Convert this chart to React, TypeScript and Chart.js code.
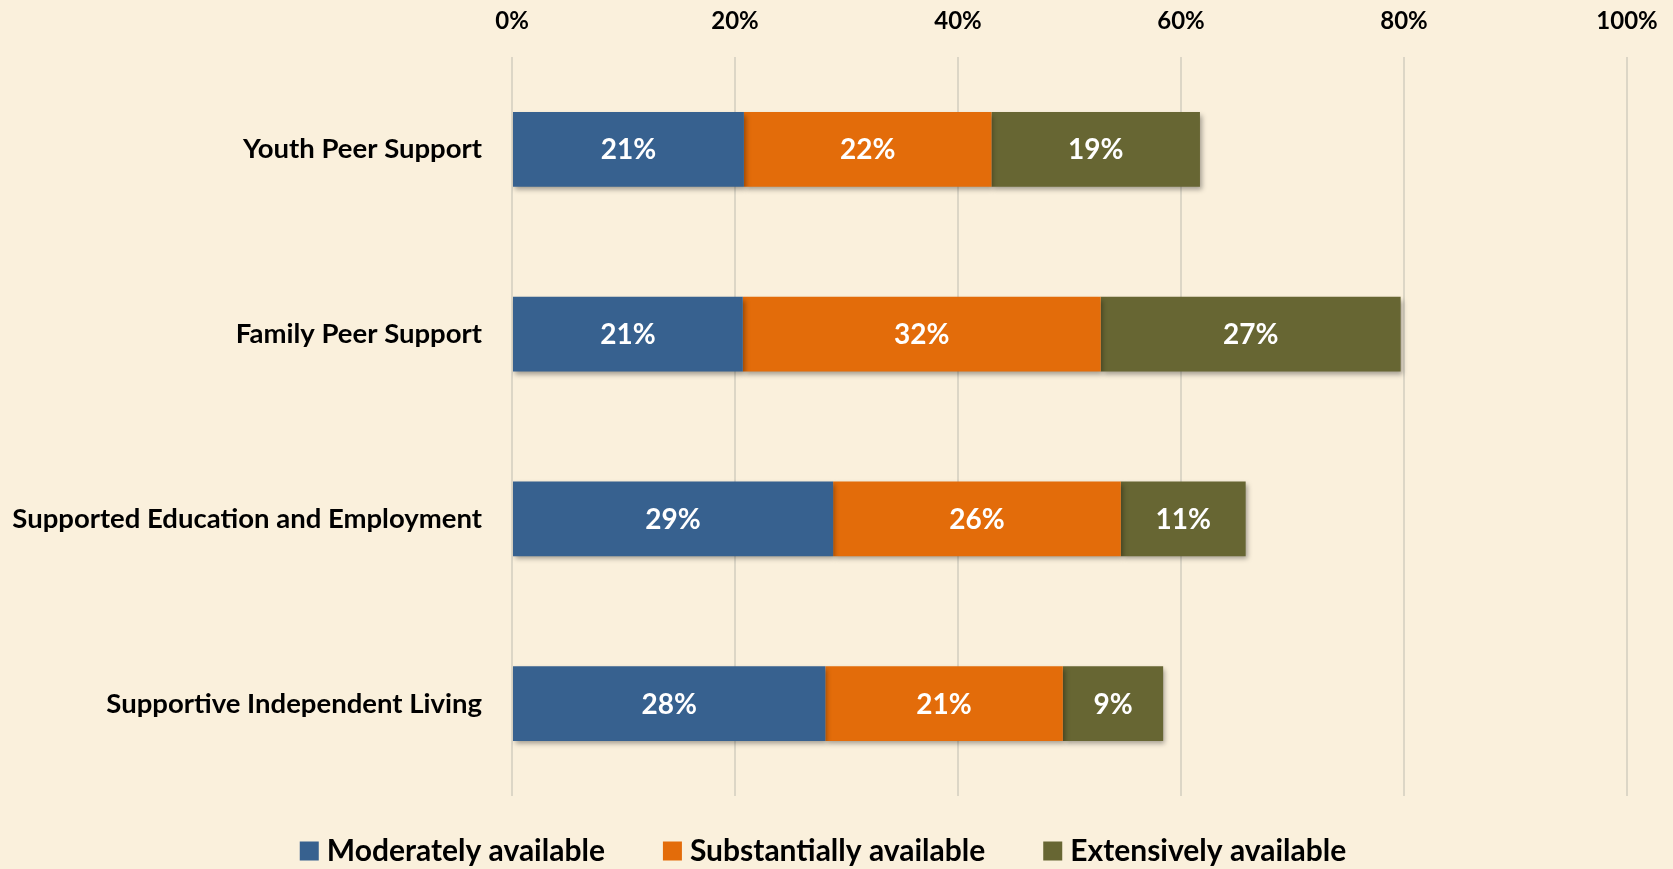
import React, { useEffect, useRef } from "react";
import { Chart, registerables } from "chart.js";

Chart.register(...registerables);

const categories = [
  "Youth Peer Support",
  "Family Peer Support",
  "Supported Education and Employment",
  "Supportive Independent Living",
];
const moderately = [20.8, 20.7, 28.8, 28.1];
const substantially = [22.2, 32.1, 25.8, 21.3];
const extensively = [18.7, 26.9, 11.2, 9.0];
const seriesNames = ["Moderately available", "Substantially available", "Extensively available"];
const seriesColors = ["#37618F", "#E36C0A", "#676633"];
const xTicks = [0, 20, 40, 60, 80, 100];

const FONT = "Lato, 'Open Sans', sans-serif";

const bgPlugin = {
  id: "bg",
  beforeDraw(chart: any) {
    const ctx = chart.ctx;
    ctx.save();
    ctx.fillStyle = "#FAF0DC";
    ctx.fillRect(0, 0, chart.width, chart.height);
    ctx.restore();
  },
};

const shadowPlugin = {
  id: "barShadow",
  beforeDatasetsDraw(chart: any) {
    const ctx = chart.ctx;
    ctx.save();
    ctx.shadowColor = "rgba(0,0,0,0.35)";
    ctx.shadowBlur = 5;
    ctx.shadowOffsetX = 2;
    ctx.shadowOffsetY = 3;
  },
  afterDatasetsDraw(chart: any) {
    chart.ctx.restore();
  },
};

const labelPlugin = {
  id: "dataLabels",
  afterDraw(chart: any) {
    const ctx = chart.ctx;
    ctx.save();
    ctx.fillStyle = "#FFFFFF";
    ctx.font = `bold 28px ${FONT}`;
    ctx.textAlign = "center";
    ctx.textBaseline = "middle";
    chart.data.datasets.forEach((ds: any, di: number) => {
      const meta = chart.getDatasetMeta(di);
      meta.data.forEach((el: any, i: number) => {
        const v = ds.data[i];
        const cx = (el.x + el.base) / 2;
        ctx.fillText(Math.round(v) + "%", cx, el.y + 1);
      });
    });
    ctx.restore();
  },
};

const legendPlugin = {
  id: "customLegend",
  afterDraw(chart: any) {
    const ctx = chart.ctx;
    ctx.save();
    ctx.font = `bold 30px ${FONT}`;
    ctx.textBaseline = "middle";
    ctx.textAlign = "left";
    const box = 19;
    const gap = 8;
    const spacing = 58;
    const items = chart.data.datasets.map((ds: any) => ({
      label: ds.label,
      color: ds.backgroundColor,
      w: ctx.measureText(ds.label).width,
    }));
    const total =
      items.reduce((s: number, it: any) => s + box + gap + it.w, 0) + spacing * (items.length - 1);
    let x = 823 - total / 2;
    const y = 851;
    items.forEach((it: any) => {
      ctx.fillStyle = it.color;
      ctx.fillRect(x, y - box / 2, box, box);
      ctx.fillStyle = "#000";
      ctx.fillText(it.label, x + box + gap, y);
      x += box + gap + it.w + spacing;
    });
    ctx.restore();
  },
};

export default function App() {
  const ref = useRef<HTMLCanvasElement | null>(null);
  useEffect(() => {
    document.body.style.margin = "0";
    const canvas = ref.current!;
    const chart = new Chart(canvas, {
      type: "bar",
      data: {
        labels: categories,
        datasets: [moderately, substantially, extensively].map((d, i) => ({
          label: seriesNames[i],
          data: d,
          backgroundColor: seriesColors[i],
          borderWidth: 0,
          barPercentage: 0.9,
          categoryPercentage: 0.45,
        })),
      },
      options: {
        indexAxis: "y",
        responsive: false,
        animation: false,
        layout: { padding: { left: 0, right: 46, top: 0, bottom: 73 } },
        scales: {
          x: {
            position: "top",
            stacked: true,
            min: 0,
            max: 100,
            afterBuildTicks(scale: any) {
              scale.ticks = xTicks.map((v) => ({ value: v }));
            },
            afterFit(scale: any) {
              scale.height = 57;
              scale.paddingLeft = 0;
              scale.paddingRight = 0;
            },
            ticks: {
              padding: 21,
              color: "#000",
              font: { family: FONT, size: 24, weight: "bold" },
              callback: (v: any) => v + "%",
            },
            grid: { color: "#DCD6C6", lineWidth: 2, drawTicks: false },
            border: { display: false },
          },
          y: {
            stacked: true,
            afterFit(scale: any) {
              scale.width = 512;
            },
            ticks: {
              padding: 30,
              color: "#000",
              font: { family: FONT, size: 27.5, weight: "bold" },
            },
            grid: { display: false, drawTicks: false },
            border: { display: false },
          },
        },
        plugins: {
          legend: { display: false },
          tooltip: { enabled: false },
        },
      },
      plugins: [bgPlugin, shadowPlugin, labelPlugin, legendPlugin],
    } as any);
    return () => chart.destroy();
  }, []);
  return (
    <div style={{ width: 1673, height: 869, background: "#FAF0DC" }}>
      <canvas ref={ref} width={1673} height={869} style={{ display: "block" }} />
    </div>
  );
}
